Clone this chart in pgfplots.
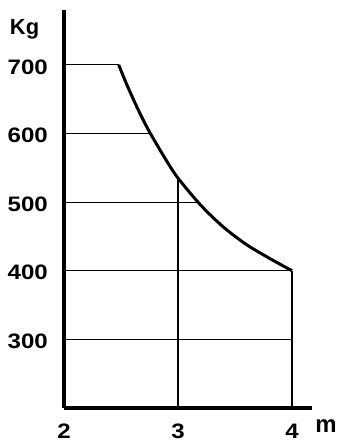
\documentclass[border=0pt]{standalone}
\usepackage{fontspec}
\setmainfont{Liberation Sans}
\newfontfamily\tickfont[FakeStretch=1.15]{Liberation Sans}
\usepackage{pgfplots}
\pgfplotsset{compat=1.18}
\begin{document}
\begin{tikzpicture}
\useasboundingbox (-64bp,-33bp) rectangle (278bp,408bp);
\begin{axis}[
  scale only axis,
  width=248bp, height=398bp,
  xmin=2, xmax=4.175, ymin=200, ymax=780,
  axis lines=left,
  axis line style={-, line width=3.5bp},
  xtick={2,3,4}, ytick={300,400,500,600,700},
  major tick length=0pt,
  /pgf/number format/assume math mode=true,
  ticklabel style={font=\tickfont\fontsize{21}{22}\selectfont\bfseries, inner sep=0pt},
  xticklabel style={anchor=base, yshift=-30bp},
  yticklabel style={anchor=east, xshift=-16bp, yshift=-2bp},
  clip=false,
]
% grid segments
\addplot[black, line width=1.2bp] coordinates {(2,600) (2.75,600)};
\addplot[black, line width=1.2bp] coordinates {(2,500) (3.18,500)};
\addplot[black, line width=1.2bp] coordinates {(2,400) (4,400)};
\addplot[black, line width=1.2bp] coordinates {(2,300) (4,300)};
\addplot[black, line width=1.2bp] coordinates {(3,200) (3,535)};
\addplot[black, line width=1.2bp] coordinates {(4,200) (4,400)};
\addplot[black, line width=1.2bp] coordinates {(2,700) (2.48,700)};
% load curve
\addplot[black, line width=3bp, smooth, line join=round] coordinates {
  (2.48,700) (2.55,671.6) (2.65,634.9) (2.75,602.3) (2.9,560.1) (3.0,535)
  (3.2,495.4) (3.4,463.4) (3.6,438.2) (3.8,418.3) (4,400)};
\node[font=\fontsize{22}{23}\selectfont\bfseries, anchor=base, inner sep=0pt] at (rel axis cs:-0.159,0.9397) {Kg};
\node[font=\fontsize{24}{25}\selectfont\bfseries, anchor=base, inner sep=0pt] at (rel axis cs:1.056,-0.0628) {m};
\end{axis}
\end{tikzpicture}
\end{document}
